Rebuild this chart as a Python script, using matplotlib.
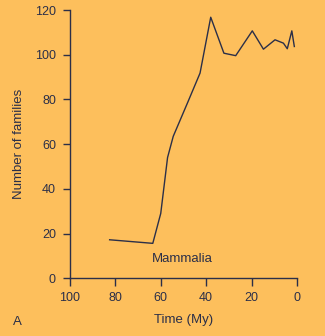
import matplotlib.pyplot as plt

# Mammal families through time
time_my = [82.5, 63.5, 60, 57, 54.5, 48, 42.7, 38, 32.2, 27, 19.7, 14.8, 9.7, 6, 4.3, 2.3, 1.2]
families = [17.2, 15.6, 29, 54, 63.5, 79, 91.8, 116.8, 100.7, 99.6, 110.7, 102.5, 106.7, 105.2, 102.7, 110.7, 103.7]

x_ticks = [100, 80, 60, 40, 20, 0]
y_ticks = [0, 20, 40, 60, 80, 100, 120]

bg = '#fdbf5c'
ink = '#2b2f48'

plt.rcParams['font.family'] = ['Liberation Sans', 'DejaVu Sans']

fig = plt.figure(figsize=(3.25, 3.36), dpi=100, facecolor=bg)
ax = fig.add_axes([0.215, 0.172, 0.699, 0.798])
ax.set_facecolor(bg)

ax.plot(time_my, families, color=ink, lw=1.0)

ax.set_xlim(100, 0)
ax.set_ylim(0, 120)
ax.set_xticks(x_ticks)
ax.set_yticks(y_ticks)

for side in ['top', 'right']:
    ax.spines[side].set_visible(False)
for side in ['left', 'bottom']:
    ax.spines[side].set_color(ink)
    ax.spines[side].set_linewidth(1.0)

ax.tick_params(axis='both', colors=ink, labelsize=9, width=1.0)
ax.tick_params(axis='y', length=5, pad=5)
ax.tick_params(axis='x', length=6, pad=4)

ax.set_ylabel('Number of families', color=ink, fontsize=9.5, labelpad=7)
ax.set_xlabel('Time (My)', color=ink, fontsize=9.5, labelpad=7)

ax.text(50.6, 8.6, 'Mammalia', color=ink, fontsize=9.5, ha='center', va='center')
fig.text(17 / 325, 1 - 322 / 336, 'A', color=ink, fontsize=9.5, ha='center', va='center')

fig.savefig('out.png', dpi=100, facecolor=bg)
